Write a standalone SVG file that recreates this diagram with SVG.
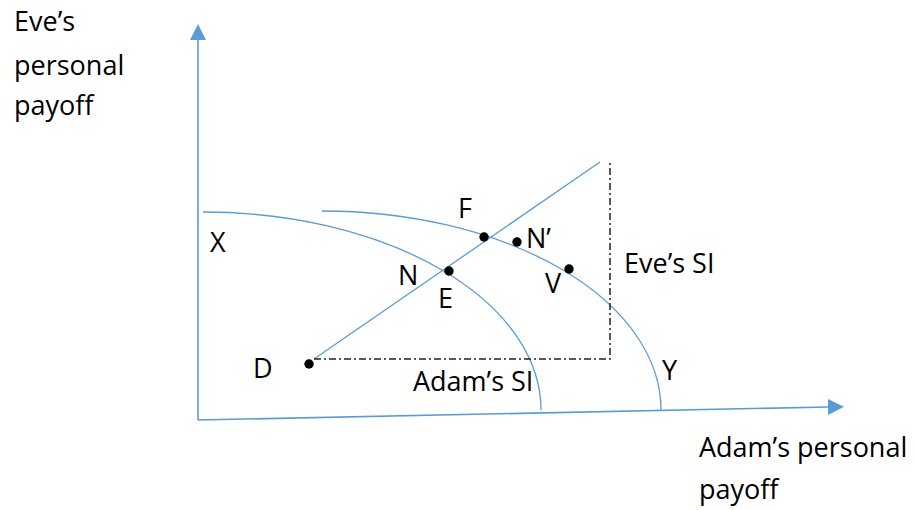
<svg xmlns="http://www.w3.org/2000/svg" width="917" height="510" viewBox="0 0 917 510">
<defs>
<style>
.t{font-family:"Open Sans","Liberation Sans",sans-serif;font-size:27px;fill:#000}
.ax{stroke:#5B9BD5;stroke-width:1.6;fill:none}
.bl{stroke:#5B9BD5;stroke-width:1.3;fill:none}
.dd{stroke:#222;stroke-width:1.5;fill:none;stroke-dasharray:7 3 2 3}
.dot{fill:#000}
</style>
<marker id="arr" viewBox="0 0 16 16" refX="0" refY="8" markerWidth="16" markerHeight="16" markerUnits="userSpaceOnUse" orient="auto">
<path d="M0,0 L16,8 L0,16 Z" fill="#5B9BD5"/>
</marker>
</defs>
<rect width="917" height="510" fill="#fff"/>
<g id="axes">
<line class="ax" x1="198" y1="420" x2="198" y2="40" marker-end="url(#arr)"/>
<line class="ax" x1="198" y1="420" x2="828" y2="407" marker-end="url(#arr)"/>
</g>
<g id="connectors">
<path class="bl" d="M203,212 A338,198 0 0 1 541,410"/>
<path class="bl" d="M322,211 A339,199 0 0 1 661,410"/>
<line class="bl" x1="314" y1="359" x2="600" y2="162"/>
<path class="dd" d="M314,359 H610 V160"/>
</g>
<g id="points">
<circle class="dot" cx="309" cy="364" r="4.7"/>
<circle class="dot" cx="449" cy="271" r="4.7"/>
<circle class="dot" cx="484" cy="237" r="4.7"/>
<circle class="dot" cx="517" cy="242" r="4.7"/>
<circle class="dot" cx="569" cy="269" r="4.7"/>
</g>
<g id="labels">
<text class="t" x="14" y="31">Eve’s</text>
<text class="t" x="14" y="75">personal</text>
<text class="t" x="14" y="115">payoff</text>
<text class="t" x="699" y="457">Adam’s personal</text>
<text class="t" x="699" y="499">payoff</text>
<text class="t" x="210" y="252">X</text>
<text class="t" x="458" y="218">F</text>
<text class="t" x="526" y="248">N’</text>
<text class="t" x="398" y="285">N</text>
<text class="t" x="438" y="308">E</text>
<text class="t" x="545" y="293">V</text>
<text class="t" x="253" y="378">D</text>
<text class="t" x="413" y="391">Adam’s SI</text>
<text class="t" x="624" y="273">Eve’s SI</text>
<text class="t" x="662" y="380">Y</text>
</g>
</svg>
